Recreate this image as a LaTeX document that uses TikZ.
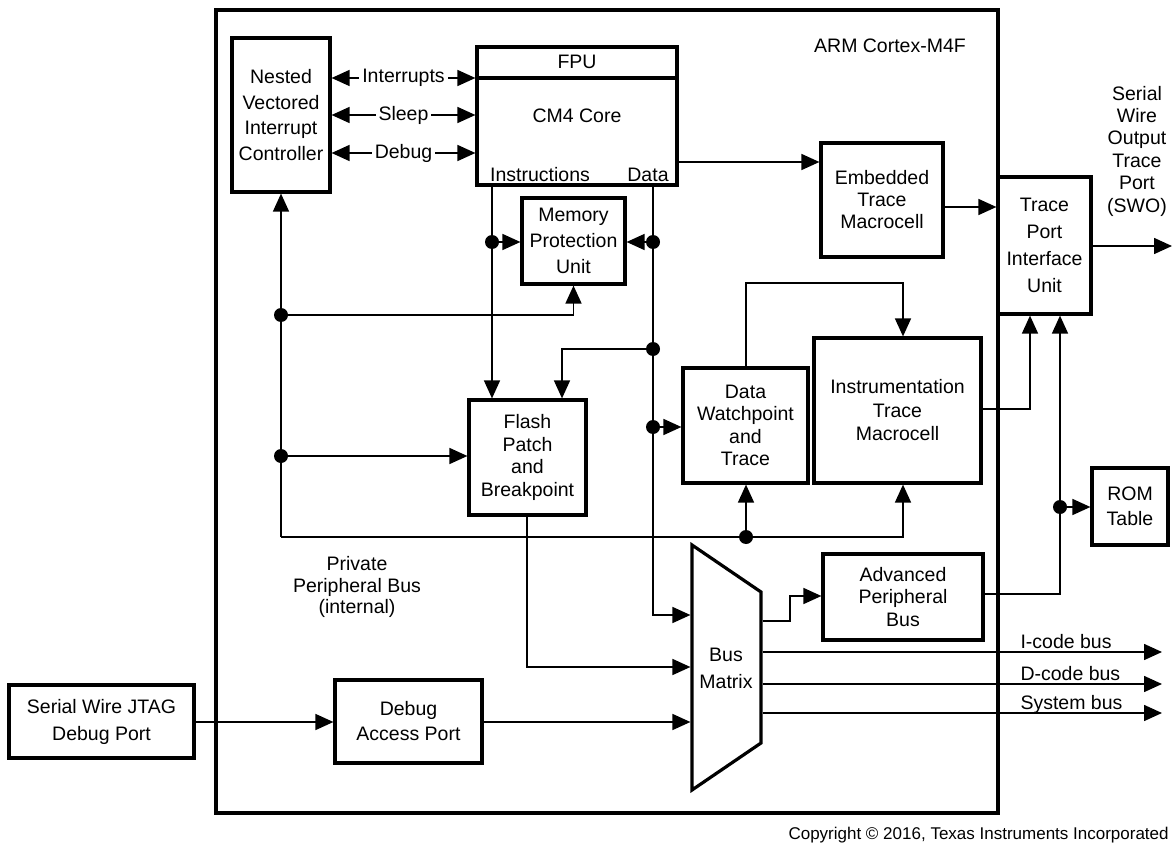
\documentclass[tikz,border=0pt]{standalone}
\usepackage{fontspec}
\setmainfont{Liberation Sans}
\usetikzlibrary{arrows.meta}
\begin{document}
\begin{tikzpicture}[x=1pt,y=-1pt,
  blk/.style={draw, line width=3.2pt, fill=white, inner sep=0pt, align=center, font=\fontsize{19.5}{23}\selectfont},
  wire/.style={line width=1.6pt},
  arw/.style={wire, -{Triangle[length=18pt,width=16pt]}},
  darw/.style={wire, {Triangle[length=18pt,width=16pt]}-{Triangle[length=18pt,width=16pt]}},
  lbl/.style={font=\fontsize{19.5}{23}\selectfont, align=center},
  jdot/.style={circle, fill, inner sep=0pt, minimum size=14pt}]
\useasboundingbox (0,0) rectangle (1173,848);
% outer frame
\node[draw, line width=3.4pt, minimum width=782pt, minimum height=803pt, inner sep=0pt] (arm) at (607,411.5) {};
\node[lbl] (armlbl) at (890,46) {ARM Cortex-M4F};
% blocks
\node[blk, minimum width=98pt, minimum height=154pt, font=\fontsize{19.5}{25.5}\selectfont] (nvic) at (281,115) {Nested\\Vectored\\Interrupt\\Controller};
\node[blk, minimum width=200pt, minimum height=138pt] (core) at (577,116) {CM4 Core};
\coordinate (fpuy) at (0,78);
\draw[line width=3.2pt] (core.west |- fpuy) -- (core.east |- fpuy);
\node[lbl] (fpu) at (577,62) {FPU};
\node[lbl] (instr) at (540,175) {Instructions};
\node[lbl] (datal) at (648,175) {Data};
\node[blk, minimum width=103pt, minimum height=86pt, font=\fontsize{19.5}{26}\selectfont] (mpu) at (573.5,241) {Memory\\Protection\\Unit};
\node[blk, minimum width=117pt, minimum height=115pt, font=\fontsize{19.5}{22.5}\selectfont] (fpb) at (527.5,457.5) {Flash\\Patch\\and\\Breakpoint};
\node[blk, minimum width=125pt, minimum height=115pt, font=\fontsize{19.5}{22.5}\selectfont] (dwt) at (745.5,425.5) {Data\\Watchpoint\\and\\Trace};
\node[blk, minimum width=167pt, minimum height=145pt, font=\fontsize{19.5}{23.5}\selectfont] (itm) at (897.5,410.5) {Instrumentation\\Trace\\Macrocell};
\node[blk, minimum width=122pt, minimum height=114pt, font=\fontsize{19.5}{22}\selectfont] (etm) at (882,200) {Embedded\\Trace\\Macrocell};
\node[blk, minimum width=93pt, minimum height=137pt, font=\fontsize{19.5}{27}\selectfont] (tpiu) at (1044.5,245.5) {Trace\\Port\\Interface\\Unit};
\node[blk, minimum width=76pt, minimum height=77pt, font=\fontsize{19.5}{25}\selectfont] (rom) at (1130,506.5) {ROM\\Table};
\node[blk, minimum width=160pt, minimum height=86pt, font=\fontsize{19.5}{22.5}\selectfont] (apb) at (903,597) {Advanced\\Peripheral\\Bus};
\node[blk, minimum width=185pt, minimum height=73pt, font=\fontsize{19.5}{27}\selectfont] (swj) at (101.5,721.5) {Serial Wire JTAG\\Debug Port};
\node[blk, minimum width=147pt, minimum height=83pt, font=\fontsize{19.5}{25}\selectfont] (dap) at (408.5,721.5) {Debug\\Access Port};
% bus matrix
\draw[line width=3.2pt, fill=white] (692,545) -- (761,592) -- (761,743) -- (692,790) -- cycle;
\node[lbl, font=\fontsize{19.5}{27}\selectfont] (bm) at (726,668) {Bus\\Matrix};
\coordinate (bmL) at (690.4,0);
\coordinate (bmR) at (762.6,0);
% texts
\node[lbl, font=\fontsize{19.5}{22.4}\selectfont] (swo) at (1137,151) {Serial\\Wire\\Output\\Trace\\Port\\(SWO)};
\node[lbl, font=\fontsize{19.5}{21.5}\selectfont] (ppb) at (357,587) {Private\\Peripheral Bus\\(internal)};
\node[font=\fontsize{17}{20}\selectfont, anchor=base west] (copy) at (785,839) {Copyright © 2016, Texas Instruments Incorporated};
% NVIC <-> core
\coordinate (ySl) at (0,115);
\coordinate (yDb) at (0,153);
\draw[darw] (nvic.east |- fpuy) -- node[lbl, fill=white, inner sep=3pt] (lint) {Interrupts} (core.west |- fpuy);
\draw[darw] (nvic.east |- ySl) -- node[lbl, fill=white, inner sep=3pt] (lsl) {Sleep} (core.west |- ySl);
\draw[darw] (nvic.east |- yDb) -- node[lbl, fill=white, inner sep=3pt] (ldb) {Debug} (core.west |- yDb);
% core -> ETM -> TPIU -> SWO
\coordinate (yEtm) at (0,162);
\coordinate (yTp) at (0,207);
\coordinate (swoEnd) at (1172,246);
\draw[arw] (core.east |- yEtm) -- (etm.west |- yEtm);
\draw[arw] (etm.east |- yTp) -- (tpiu.west |- yTp);
\draw[arw] (tpiu.east |- swoEnd) -- (swoEnd);
% instructions / data
\coordinate (xI) at (492,0);
\coordinate (xD) at (653,0);
\coordinate (xF2) at (562,0);
\coordinate (yBm1) at (0,615);
\draw[arw] (core.south -| xI) -- (fpb.north -| xI);
\draw[arw] (core.south -| xD) -- (xD |- yBm1) -- (bmL |- yBm1);
\node[jdot] (dI1) at (492,242) {};
\node[jdot] (dD1) at (653,242) {};
\node[jdot] (dD2) at (653,349) {};
\node[jdot] (dD3) at (653,427) {};
\draw[arw] (dI1.center) -- (mpu.west |- dI1);
\draw[arw] (dD1.center) -- (mpu.east |- dD1);
\draw[arw] (dD2.center) -- (xF2 |- dD2) -- (fpb.north -| xF2);
\draw[arw] (dD3.center) -- (dwt.west |- dD3);
% private peripheral bus
\coordinate (ppbL) at (281,537);
\coordinate (ppbR) at (903,537);
\draw[arw] (ppbL) -- (nvic.south -| ppbL);
\draw[arw] (ppbL) -- (ppbR) -- (itm.south -| ppbR);
\node[jdot] (dN1) at (281,315) {};
\node[jdot] (dN2) at (281,456) {};
\node[jdot] (dP) at (746,537) {};
\draw[arw] (dN1.center) -- (dN1 -| mpu.south) -- (mpu.south);
\draw[arw] (dN2.center) -- (fpb.west |- dN2);
\draw[arw] (dP.center) -- (dwt.south -| dP);
% DWT -> ITM
\coordinate (dwtUp) at (746,283);
\coordinate (itmUp) at (903,283);
\draw[arw] (dwt.north -| dwtUp) -- (dwtUp) -- (itmUp) -- (itm.north -| itmUp);
% ITM / APB -> TPIU, ROM
\coordinate (t1) at (1030,409);
\coordinate (t2) at (1060,594);
\draw[arw] (itm.east |- t1) -- (t1) -- (tpiu.south -| t1);
\draw[arw] (apb.east |- t2) -- (t2) -- (tpiu.south -| t2);
\node[jdot] (dR) at (1060,507) {};
\draw[arw] (dR.center) -- (rom.west |- dR);
% into bus matrix
\coordinate (f1) at (527,667);
\coordinate (yDap) at (0,722);
\draw[arw] (fpb.south -| f1) -- (f1) -- (bmL |- f1);
\draw[arw] (swj.east |- yDap) -- (dap.west |- yDap);
\draw[arw] (dap.east |- yDap) -- (bmL |- yDap);
% out of bus matrix
\coordinate (a1) at (790,621);
\coordinate (a2) at (790,596);
\draw[arw] (bmR |- a1) -- (a1) -- (a2) -- (apb.west |- a2);
\coordinate (ib) at (1162,652);
\coordinate (db) at (1162,684);
\coordinate (sb) at (1162,713);
\draw[arw] (bmR |- ib) -- (ib);
\draw[arw] (bmR |- db) -- (db);
\draw[arw] (bmR |- sb) -- (sb);
\node[lbl, anchor=base west] (li) at (1017,648) {I-code bus};
\node[lbl, anchor=base west] (ld) at (1017,680) {D-code bus};
\node[lbl, anchor=base west] (ls) at (1017,709) {System bus};
\end{tikzpicture}
\end{document}
